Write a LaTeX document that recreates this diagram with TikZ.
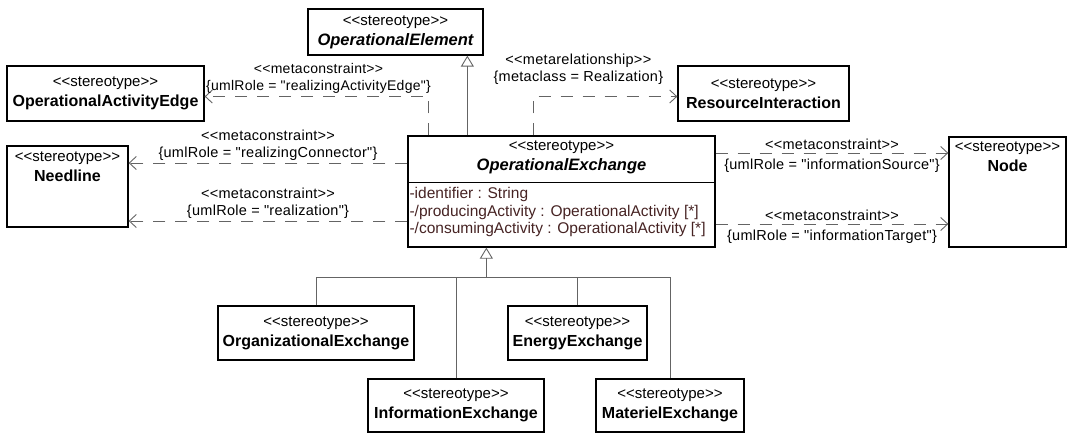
\documentclass[tikz,border=0pt]{standalone}
\usepackage{fontspec}
\setmainfont{Liberation Sans}[Ligatures=TeXOff]
\newfontfamily\lblfont{Liberation Sans}[LetterSpace=2, Ligatures=TeXOff]
\usetikzlibrary{arrows.meta, positioning, calc}
\definecolor{umlLine}{RGB}{100,100,100}
\definecolor{umlAttr}{RGB}{70,35,35}
\newcommand{\sttag}[1]{<{}<#1>{}>}

\begin{document}
\begin{tikzpicture}[
		x=1pt, y=-1pt,
		stbox/.style={draw, line width=1.3pt, minimum height=54pt, inner sep=2pt, align=center, font=\fontsize{15}{20}\selectfont},
		txt/.style={align=center, inner sep=1pt, font=\fontsize{15}{20}\selectfont},
		attr/.style={align=left, inner sep=1pt, text=umlAttr, font=\fontsize{15.5}{17.5}\selectfont},
		lbl/.style={align=center, inner sep=2pt, text=black, font=\lblfont\fontsize{14.5}{17}\selectfont},
		dep/.style={-{Straight Barb[length=7pt, width=13pt]}, umlLine, line width=0.9pt, dash pattern=on 12pt off 10pt},
		gen/.style={-{Triangle[open, length=11pt, width=13pt]}, umlLine, line width=0.9pt},
		tree/.style={umlLine, line width=0.9pt}
	]
	\useasboundingbox (0,0) rectangle (1068,433);

	% stereotype boxes
	\node[stbox, minimum width=175pt, minimum height=46pt] (opelem) at (395.5,32) {\sttag{stereotype}\\{\fontsize{16.5}{20}\selectfont\bfseries\itshape OperationalElement}};
	\node[stbox, minimum width=197pt, minimum height=55pt] (actedge) at (105.5,93.5) {\sttag{stereotype}\\{\fontsize{16}{20}\selectfont\bfseries OperationalActivityEdge}};
	\node[stbox, minimum width=171pt, minimum height=55pt] (resint) at (763.5,93.5) {\sttag{stereotype}\\{\fontsize{16}{20}\selectfont\bfseries ResourceInteraction}};
	\node[stbox, minimum width=121pt, minimum height=81pt] (needline) at (67.5,186.5) {};
	\node[txt, below=5pt of needline.north] (needline-t) {\sttag{stereotype}\\{\fontsize{16}{20}\selectfont\bfseries Needline}};
	\node[stbox, minimum width=117pt, minimum height=110pt] (nodecls) at (1007.5,192) {};
	\node[txt, below=4pt of nodecls.north] (nodecls-t) {\sttag{stereotype}\\{\fontsize{16}{20}\selectfont\bfseries Node}};

	% the exchange class with its attributes
	\node[stbox, minimum width=307pt, minimum height=111pt] (opex) at (561.5,191.5) {};
	\node[txt, below=4pt of opex.north] (opex-h) {\sttag{stereotype}\\{\fontsize{16.5}{20}\selectfont\bfseries\itshape OperationalExchange}};
	\coordinate (opex-d) at ([yshift=-47pt]opex.north west);
	\draw[line width=1.3pt] (opex-d) -- (opex-d -| opex.east);
	\node[attr, anchor=north west] (opex-a) at ([xshift=1pt, yshift=-4pt]opex-d) {-identifier : String\\-/producingActivity : OperationalActivity [*]\\-/consumingActivity : OperationalActivity [*]};

	\node[stbox, minimum width=196pt] (orgex) at (316,333) {\sttag{stereotype}\\{\fontsize{16}{20}\selectfont\bfseries OrganizationalExchange}};
	\node[stbox, minimum width=139pt] (energyex) at (577.5,333) {\sttag{stereotype}\\{\fontsize{16}{20}\selectfont\bfseries EnergyExchange}};
	\node[stbox, minimum width=176pt, minimum height=53pt] (infoex) at (456,405.5) {\sttag{stereotype}\\{\fontsize{16}{20}\selectfont\bfseries InformationExchange}};
	\node[stbox, minimum width=148pt, minimum height=53pt] (matex) at (670,405.5) {\sttag{stereotype}\\{\fontsize{16}{20}\selectfont\bfseries MaterielExchange}};

	% generalizations
	\draw[gen] ([xshift=60pt]opex.north west) -- ([xshift=60pt]opex.north west |- opelem.south);
	\coordinate (gtop) at ([xshift=79pt]opex.south west);
	\coordinate (gbar) at (0,277);
	\draw[tree] (orgex.north) |- (matex.north |- gbar) -- (matex.north);
	\draw[tree] (infoex.north) -- (infoex.north |- gbar);
	\draw[tree] (energyex.north) -- (energyex.north |- gbar);
	\draw[gen] (gtop |- gbar) -- (gtop);

	% metaconstraints
	\coordinate (aeS) at ([xshift=21pt]opex.north west);
	\draw[dep] (aeS) |- node[lbl, above=1pt, pos=0.75, xshift=2pt, font=\lblfont\fontsize{14}{17}\selectfont] {\sttag{metaconstraint}\\\{umlRole = "realizingActivityEdge"\}} ([yshift=-3pt]actedge.east);
	\coordinate (mrS) at ([xshift=126pt]opex.north west);
	\draw[dep] (mrS) |- node[lbl, above=10pt, pos=0.5, xshift=45pt] {\sttag{metarelationship}\\\{metaclass = Realization\}} ([yshift=-3pt]resint.west);

	\coordinate (nlA) at ([yshift=28.5pt]opex.west);
	\coordinate (nlB) at ([yshift=-29.5pt]opex.west);
	\draw[dep] (nlA) -- node[lbl, above] {\sttag{metaconstraint}\\\{umlRole = "realizingConnector"\}} (nlA -| needline.east);
	\draw[dep] (nlB) -- node[lbl, above] {\sttag{metaconstraint}\\\{umlRole = "realization"\}} (nlB -| needline.east);

	\coordinate (ndA) at ([yshift=38.5pt]opex.east);
	\coordinate (ndB) at ([yshift=-32.5pt]opex.east);
	\draw[dep] (ndA) -- node[lbl, above=1pt] {\sttag{metaconstraint}} node[lbl, below=4pt] {\{umlRole = "informationSource"\}} (ndA -| nodecls.west);
	\draw[dep] (ndB) -- node[lbl, above=1pt] {\sttag{metaconstraint}} node[lbl, below=4pt] {\{umlRole = "informationTarget"\}} (ndB -| nodecls.west);
\end{tikzpicture}
\end{document}
